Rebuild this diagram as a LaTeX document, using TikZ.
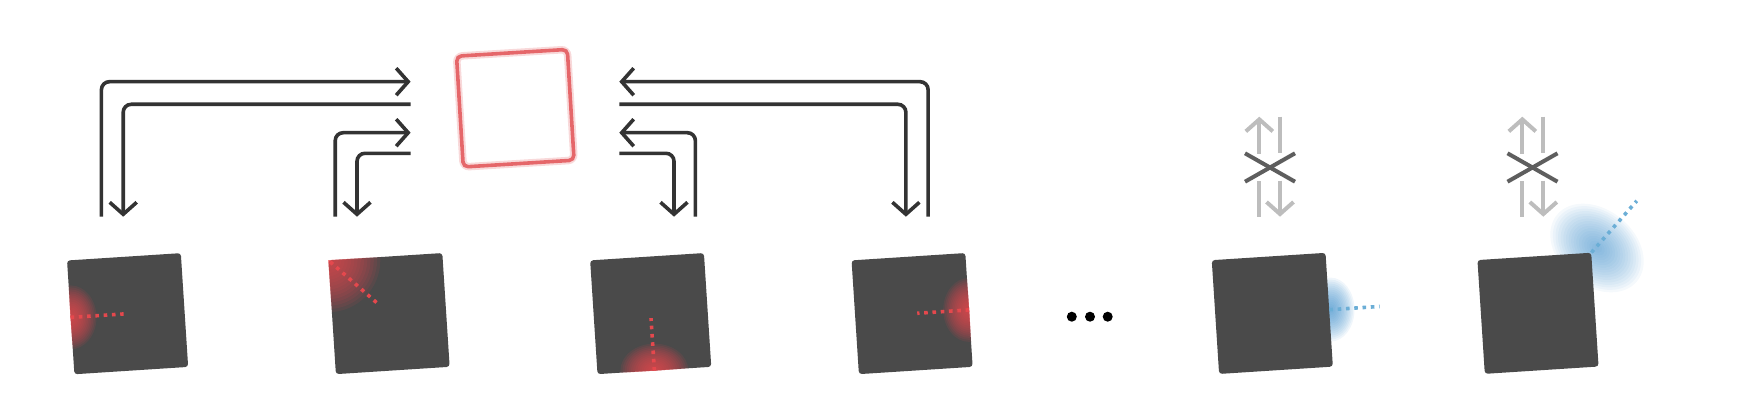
\documentclass[tikz,border=0pt]{standalone}
\usetikzlibrary{arrows.meta,calc}
\definecolor{sqgray}{HTML}{4A4A4A}
\definecolor{arrowblk}{HTML}{333333}
\definecolor{lightg}{HTML}{BDBDBD}
\definecolor{crossg}{HTML}{5E5E5E}
\definecolor{redline}{HTML}{E5676A}
\definecolor{reddot}{HTML}{E5484D}
\definecolor{glowred}{HTML}{EB464B}
\definecolor{bluedot}{HTML}{6BAED6}
\definecolor{glowblue}{HTML}{4592CC}
\tikzset{
  sq/.style={fill=sqgray, minimum size=114pt, inner sep=0pt, rounded corners=3pt, rotate=3.7},
  targetsq/.style={minimum size=111pt, inner sep=0pt, rotate=3.5},
  flowline/.style={draw=arrowblk, line width=3.6pt, rounded corners=8pt},
  arrowhd/.style={-{Straight Barb[length=12pt,width=27pt]}},
  grayline/.style={draw=lightg, line width=4pt},
  crossline/.style={draw=crossg, line width=4pt},
  reddotted/.style={draw=reddot, line width=3.6pt, dash pattern=on 3.6pt off 4.7pt},
  bluedotted/.style={draw=bluedot, line width=3.6pt, dash pattern=on 3.6pt off 4.7pt},
  dotnode/.style={circle, fill=black, minimum size=10pt, inner sep=0pt},
}
\begin{document}
\begin{tikzpicture}[x=1pt,y=-1pt]
\useasboundingbox (0,0) rectangle (1750,417);
% helper coordinates for square centres
\coordinate (c5) at (1272.3,313.4);
\coordinate (c6) at (1538.0,313.3);
% blue glows (drawn under the squares)
\coordinate (g5) at (1330.5,309.6);
\foreach \k in {1,...,16}
  \fill[glowblue, opacity=0.08] (g5) ellipse ({24*\k/16} and {32*\k/16});
\coordinate (g6) at (1597,248);
\begin{scope}[shift={(g6)}, rotate=-40]
\foreach \k in {1,...,18}
  \fill[glowblue, opacity=0.055] (0,0) ellipse ({52*\k/18} and {38*\k/18});
\end{scope}
% squares
\node[sq] (s1) at (127.6,313.7) {};
\node[sq] (s2) at (389.1,313.6) {};
\node[sq] (s3) at (650.7,313.6) {};
\node[sq] (s4) at (912.1,313.6) {};
\node[sq] (s5) at (c5) {};
\node[sq] (s6) at (c6) {};
% red glows clipped inside squares
\begin{scope}
\clip (s1.north west) -- (s1.north east) -- (s1.south east) -- (s1.south west) -- cycle;
\foreach \k in {1,...,16}
  \fill[glowred, opacity=0.1] (s1.west) ellipse ({26*\k/16} and {32*\k/16});
\end{scope}
\begin{scope}
\clip (s2.north west) -- (s2.north east) -- (s2.south east) -- (s2.south west) -- cycle;
\foreach \k in {1,...,16}
  \fill[glowred, opacity=0.09] (s2.north west) ellipse ({52*\k/16} and {52*\k/16});
\end{scope}
\begin{scope}
\clip (s3.north west) -- (s3.north east) -- (s3.south east) -- (s3.south west) -- cycle;
\foreach \k in {1,...,16}
  \fill[glowred, opacity=0.1] (s3.south) ellipse ({34*\k/16} and {27*\k/16});
\end{scope}
\begin{scope}
\clip (s4.north west) -- (s4.north east) -- (s4.south east) -- (s4.south west) -- cycle;
\foreach \k in {1,...,16}
  \fill[glowred, opacity=0.1] (s4.east) ellipse ({26*\k/16} and {32*\k/16});
\end{scope}
% dotted rays
\draw[reddotted] (s1.west) -- ($(s1.west)!0.93!(s1.center)$);
\draw[reddotted] ($(s2.north west)!0.03!(s2.center)$) -- ($(s2.north west)!0.84!(s2.center)$);
\draw[reddotted] (s3.south) -- ($(s3.south)!0.92!(s3.center)$);
\draw[reddotted] (s4.east) -- ($(s4.east)!0.91!(s4.center)$);
\draw[bluedotted] (s5.east) -- ($(s5.east)!-0.88!(s5.center)$);
\draw[bluedotted] (s6.north east) -- ($(s6.north east)!-0.85!(s6.center)$);
% target square (blurred red outline)
\node[targetsq, draw=redline, draw opacity=0.25, line width=7.5pt, rounded corners=6pt] (t) at (515.3,108.2) {};
\node[targetsq, draw=redline, line width=3.6pt, rounded corners=5pt] (t2) at (515.3,108.2) {};
% black arrows, left side
\coordinate (A1) at (101.4,216.7); \coordinate (A1e) at (410.6,81.7);
\coordinate (A2) at (410.6,104.3); \coordinate (A2e) at (123.2,216.7);
\coordinate (A3) at (335.2,216.7); \coordinate (A3e) at (410.6,132.7);
\coordinate (A4) at (410.6,153.3); \coordinate (A4e) at (357.0,216.7);
\draw[flowline, arrowhd] (A1) |- (A1e);
\draw[flowline, arrowhd] (A2) -| (A2e);
\draw[flowline, arrowhd] (A3) |- (A3e);
\draw[flowline, arrowhd] (A4) -| (A4e);
% black arrows, right side
\coordinate (B1) at (928.1,216.7); \coordinate (B1e) at (619.3,81.7);
\coordinate (B2) at (619.3,104.3); \coordinate (B2e) at (905.9,216.7);
\coordinate (B3) at (695.4,216.7); \coordinate (B3e) at (619.3,132.7);
\coordinate (B4) at (619.3,153.3); \coordinate (B4e) at (674.0,216.7);
\draw[flowline, arrowhd] (B1) |- (B1e);
\draw[flowline, arrowhd] (B2) -| (B2e);
\draw[flowline, arrowhd] (B3) |- (B3e);
\draw[flowline, arrowhd] (B4) -| (B4e);
% blocked (gray) arrows
\foreach \lx/\rx/\cx [count=\i] in {1259.3/1280.0/1270.0, 1522.3/1543.3/1532.5}{
  \coordinate (Lb\i) at (\lx,216.7); \coordinate (Lm\i) at (\lx,180.5);
  \coordinate (Ln\i) at (\lx,153.5); \coordinate (Lt\i) at (\lx,116.7);
  \coordinate (Rt\i) at (\rx,116.7); \coordinate (Rn\i) at (\rx,152.5);
  \coordinate (Rm\i) at (\rx,180.5); \coordinate (Rb\i) at (\rx,216.7);
  \draw[grayline] (Lb\i) -- (Lm\i);
  \draw[grayline, arrowhd] (Ln\i) -- (Lt\i);
  \draw[grayline] (Rt\i) -- (Rn\i);
  \draw[grayline, arrowhd] (Rm\i) -- (Rb\i);
  \coordinate (X1\i) at (\cx-25,153.3); \coordinate (X2\i) at (\cx+25,181.7);
  \coordinate (X3\i) at (\cx-25,181.7); \coordinate (X4\i) at (\cx+25,153.3);
  \draw[crossline] (X1\i) -- (X2\i);
  \draw[crossline] (X3\i) -- (X4\i);
}
% ellipsis dots
\node[dotnode] (d1) at (1071.8,316.7) {};
\node[dotnode] (d2) at (1090.0,316.7) {};
\node[dotnode] (d3) at (1107.7,316.7) {};
\end{tikzpicture}
\end{document}
